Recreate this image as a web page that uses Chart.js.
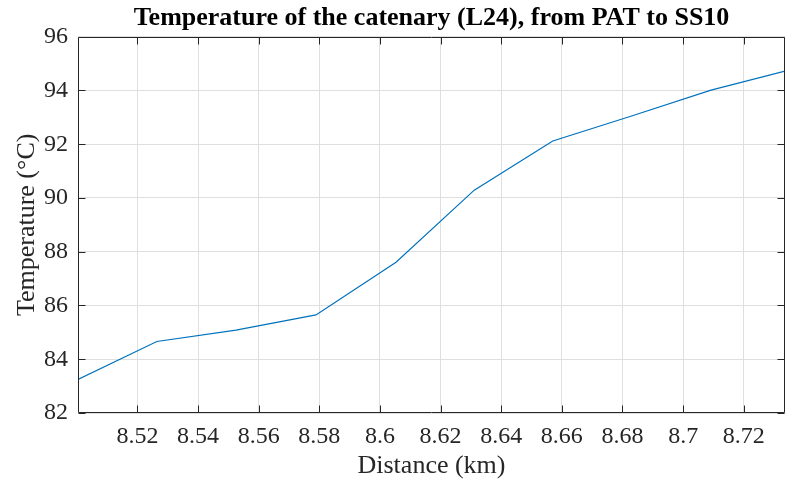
<!DOCTYPE html>
<html>
<head>
<meta charset="utf-8">
<title>Catenary temperature</title>
<script src="https://cdn.jsdelivr.net/npm/chart.js@4.4.1/dist/chart.umd.min.js"></script>
<style>
  html, body { margin: 0; padding: 0; background: #fff; }
  #wrap { position: relative; width: 785px; height: 485px; }
</style>
</head>
<body>
<div id="wrap"><canvas id="chart"></canvas></div>
<script>
// Catenary L24 temperature along the PAT -> SS10 stretch
const distanceKm = [8.5004, 8.5264, 8.5525, 8.5789, 8.6053, 8.6311, 8.657, 8.683, 8.7092, 8.7336];
const temperatureC = [83.25, 84.66, 85.08, 85.65, 87.61, 90.29, 92.12, 93.05, 94.01, 94.72];

const xTicks = [8.52, 8.54, 8.56, 8.58, 8.6, 8.62, 8.64, 8.66, 8.68, 8.7, 8.72];
const yTicks = [82, 84, 86, 88, 90, 92, 94, 96];

const FONT = '"Liberation Serif", "Times New Roman", serif';
const AXIS_COLOR = '#262626';
const GRID_COLOR = '#dfdfdf';
const TICK_LEN = 7;

// box around the axes with inward ticks on all four sides
const boxPlugin = {
  id: 'box',
  afterDatasetsDraw(chart) {
    const { ctx, chartArea: a, scales } = chart;
    const L = Math.round(a.left) + 0.5, R = Math.round(a.right) - 0.5;
    const T = Math.round(a.top) + 0.5, B = Math.round(a.bottom) - 0.5;
    ctx.save();
    ctx.strokeStyle = AXIS_COLOR;
    ctx.lineWidth = 1;
    ctx.beginPath();
    ctx.moveTo(L, T); ctx.lineTo(R, T);
    ctx.moveTo(R, T); ctx.lineTo(R, B);
    ctx.moveTo(L, B); ctx.lineTo(R, B);
    ctx.moveTo(L, T); ctx.lineTo(L, B);
    xTicks.forEach(v => {
      const px = Math.round(scales.x.getPixelForValue(v)) + 0.5;
      ctx.moveTo(px, B); ctx.lineTo(px, B - TICK_LEN);
      ctx.moveTo(px, T); ctx.lineTo(px, T + TICK_LEN);
    });
    yTicks.forEach(v => {
      const py = Math.round(scales.y.getPixelForValue(v)) + 0.5;
      ctx.moveTo(L, py); ctx.lineTo(L + TICK_LEN, py);
      ctx.moveTo(R, py); ctx.lineTo(R - TICK_LEN, py);
    });
    ctx.stroke();
    ctx.restore();
  }
};

new Chart(document.getElementById('chart'), {
  type: 'line',
  data: {
    datasets: [{
      data: distanceKm.map((d, i) => ({ x: d, y: temperatureC[i] })),
      borderColor: '#0072BD',
      borderWidth: 1.2,
      pointRadius: 0,
      tension: 0,
      fill: false
    }]
  },
  options: {
    responsive: true,
    maintainAspectRatio: false,
    devicePixelRatio: 1,
    animation: false,
    layout: { padding: { top: 0, right: 0, left: 0, bottom: 0 } },
    plugins: {
      legend: { display: false },
      tooltip: { enabled: false },
      title: {
        display: true,
        fullSize: false,
        text: 'Temperature of the catenary (L24), from PAT to SS10',
        color: '#000',
        font: { family: FONT, size: 26, weight: 'bold' },
        padding: { top: 3, bottom: 2.5 }
      }
    },
    scales: {
      x: {
        type: 'linear',
        min: 8.5004,
        max: 8.7336,
        afterFit: s => { s.height = 72; },
        afterBuildTicks: s => { s.ticks = xTicks.map(v => ({ value: v })); },
        grid: { color: GRID_COLOR, drawTicks: false },
        border: { display: false },
        ticks: {
          color: AXIS_COLOR,
          padding: 9,
          maxRotation: 0,
          autoSkip: false,
          font: { family: FONT, size: 24 },
          callback: v => String(v)
        },
        title: {
          display: true,
          text: 'Distance (km)',
          color: AXIS_COLOR,
          font: { family: FONT, size: 26 },
          padding: { top: 0, bottom: 3 }
        }
      },
      y: {
        min: 82,
        max: 96,
        afterFit: s => { s.width = 78; },
        afterBuildTicks: s => { s.ticks = yTicks.map(v => ({ value: v })); },
        grid: { color: GRID_COLOR, drawTicks: false },
        border: { display: false },
        ticks: {
          color: AXIS_COLOR,
          padding: 10,
          autoSkip: false,
          font: { family: FONT, size: 24 },
          callback: v => String(v)
        },
        title: {
          display: true,
          text: 'Temperature (°C)',
          color: AXIS_COLOR,
          font: { family: FONT, size: 26 },
          padding: { top: 12, bottom: 0 }
        }
      }
    }
  },
  plugins: [boxPlugin]
});
</script>
</body>
</html>
